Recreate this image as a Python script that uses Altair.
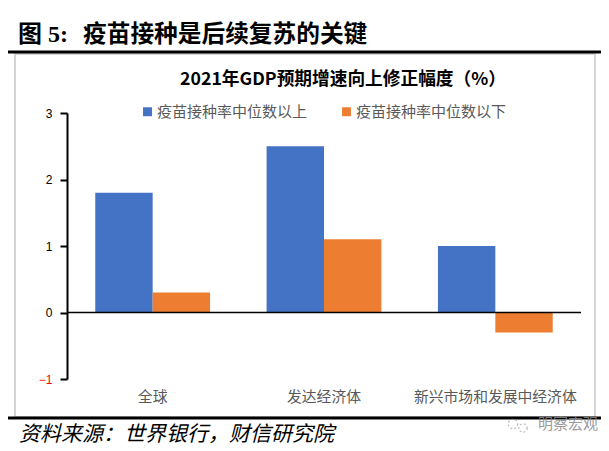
import altair as alt
import pandas as pd

categories = ["全球", "发达经济体", "新兴市场和发展中经济体"]
series_names = ["疫苗接种率中位数以上", "疫苗接种率中位数以下"]
above = [1.8, 2.5, 1.0]
below = [0.3, 1.1, -0.3]
header_a = "图 5:"
header_b = "疫苗接种是后续复苏的关键"
chart_title = "2021年GDP预期增速向上修正幅度（%）"
source = "资料来源：世界银行，财信研究院"
watermark = "明察宏观"
colors = ["#4472C4", "#ED7D31"]

rows = []
for c, a, b in zip(categories, above, below):
    rows.append({"cat": c, "series": series_names[0], "v": a})
    rows.append({"cat": c, "series": series_names[1], "v": b})
df = pd.DataFrame(rows)

L, T = 59, 105  # padding: plot origin inside the svg
W, H = 514, 266
CJK = "Noto Sans CJK SC"
SERIF = "Liberation Serif, Noto Sans CJK SC"


def px(x):
    return x - 8 - L


def py(y):
    return y - 8 - T


blank = alt.Data(values=[{"k": 0}])

frame = alt.Chart(blank).mark_rect(fill="white", stroke="#d4d4d4", strokeWidth=2).encode(
    x=alt.value(px(15)), x2=alt.value(px(595)), y=alt.value(py(54)), y2=alt.value(py(417)))


def hrule(y, w):
    return alt.Chart(blank).mark_rule(color="black", strokeWidth=w).encode(
        x=alt.value(px(3)), x2=alt.value(px(604)), y=alt.value(py(y)))


def label(text, x, y, **kw):
    return alt.Chart(alt.Data(values=[{"t": text}])).mark_text(baseline="middle", **kw).encode(
        text="t:N", x=alt.value(px(x)), y=alt.value(py(y)))


def dot(x, y, size):
    return alt.Chart(blank).mark_point(shape="circle", filled=False, stroke="#a0a0a0", strokeWidth=1.2,
                                       strokeDash=[2, 2], size=size).encode(
        x=alt.value(px(x)), y=alt.value(py(y)))


bars = alt.Chart(df).mark_bar().encode(
    x=alt.X("cat:N", sort=categories, title=None,
            scale=alt.Scale(paddingInner=0.33, paddingOuter=0.165),
            axis=alt.Axis(orient="bottom", offset=0, domain=False, ticks=False, labelAngle=0, zindex=1,
                          labelFont=CJK, labelFontSize=14.8, labelColor="#595959",
                          labelPadding=10, labelLimit=200)),
    xOffset=alt.XOffset("series:N", sort=series_names),
    y=alt.Y("v:Q", title=None,
            scale=alt.Scale(domain=[-1, 3], nice=False),
            axis=alt.Axis(values=[-1, 0, 1, 2, 3], format="d", grid=False, domainColor="black", zindex=1,
                          domainWidth=2, tickColor="black", tickWidth=2, tickSize=7,
                          labelFont="Liberation Sans", labelFontSize=12, labelPadding=8,
                          labelColor={"condition": {"test": "datum.value < 0", "value": "#FF0000"},
                                      "value": "black"})),
    color=alt.Color("series:N", sort=series_names,
                    scale=alt.Scale(domain=series_names, range=colors),
                    legend=alt.Legend(orient="none", legendX=px(140), legendY=py(104), direction="horizontal",
                                      title=None, symbolType="square", symbolSize=80, symbolStrokeWidth=0,
                                      labelFont=CJK, labelFontSize=15, labelColor="#595959", labelOffset=2,
                                      labelLimit=220, columnPadding=31, columns=2)),
)

zero = alt.Chart(alt.Data(values=[{"z": 0}])).mark_rule(color="black", strokeWidth=1.5).encode(
    y="z:Q", x=alt.value(0), x2=alt.value(W))

chart = alt.layer(
    frame,
    bars,
    zero,
    hrule(52, 3),
    hrule(418, 3),
    label(header_a, 18, 35, font=SERIF, fontSize=24, fontWeight="bold", align="left", color="black"),
    label(header_b, 83, 35, font=CJK, fontSize=23.7, fontWeight="bold", align="left", color="black"),
    label(chart_title, 343, 80, font=CJK, fontSize=17.7, fontWeight="bold", align="center", color="black"),
    label(source, 19, 435, font=CJK, fontSize=21, fontStyle="italic", align="left", color="black"),
    dot(513, 424, 90),
    dot(523, 428, 70),
    label(watermark, 538, 424, font=CJK, fontSize=15, align="left", color="#8a8a8a", opacity=0.85),
).properties(
    width=W, height=H,
    padding={"left": L, "top": T, "right": 20, "bottom": 72},
    autosize=alt.AutoSizeParams(type="none"),
    background="white",
).configure_view(stroke=None)

chart.save("out.html", embed_options={"renderer": "svg", "actions": False})
